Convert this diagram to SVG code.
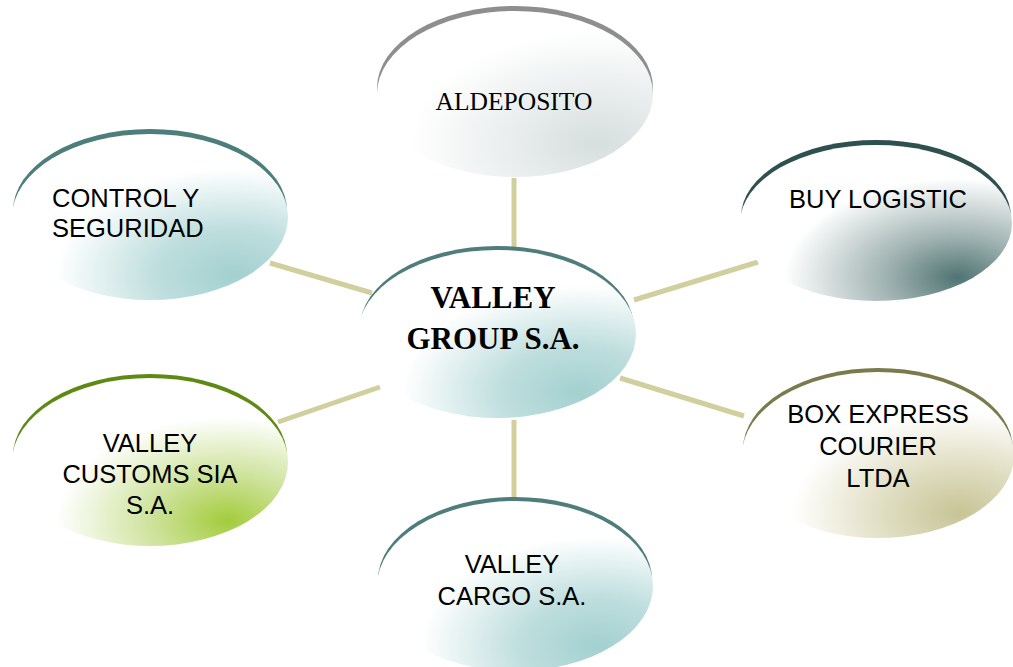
<svg xmlns="http://www.w3.org/2000/svg" width="1013" height="667" viewBox="0 0 1013 667">
  <style>
    .link { stroke: #d2cf9f; stroke-width: 5; fill: none; }
    .sans { font-family: "Liberation Sans", Arial, sans-serif; font-size: 25.5px; fill: #000; text-anchor: middle; }
    .left { text-anchor: start; }
    .serif { font-family: "Liberation Serif", "Times New Roman", serif; font-size: 25.5px; fill: #000; text-anchor: middle; }
    .title { font-family: "Liberation Serif", "Times New Roman", serif; font-size: 31px; font-weight: bold; fill: #000; text-anchor: middle; }
  </style>
  <defs>
    <radialGradient id="gTeal" cx="0.8" cy="0.85" r="0.8">
      <stop offset="0" stop-color="#a3d0d0"/>
      <stop offset="0.35" stop-color="#bfdede"/>
      <stop offset="0.8" stop-color="#ffffff"/>
    </radialGradient>
    <radialGradient id="gGrey" cx="0.8" cy="0.8" r="0.8">
      <stop offset="0" stop-color="#d6dede"/>
      <stop offset="0.85" stop-color="#ffffff"/>
    </radialGradient>
    <radialGradient id="gSlate" cx="0.8" cy="0.85" r="0.75">
      <stop offset="0" stop-color="#4f7472"/>
      <stop offset="0.35" stop-color="#9fb2b1"/>
      <stop offset="0.85" stop-color="#ffffff"/>
    </radialGradient>
    <radialGradient id="gGreen" cx="0.78" cy="0.85" r="0.77">
      <stop offset="0" stop-color="#a3cc3c"/>
      <stop offset="0.35" stop-color="#cde29a"/>
      <stop offset="0.8" stop-color="#ffffff"/>
    </radialGradient>
    <radialGradient id="gKhaki" cx="0.8" cy="0.85" r="0.77">
      <stop offset="0" stop-color="#c7c496"/>
      <stop offset="0.4" stop-color="#e2e0c6"/>
      <stop offset="0.8" stop-color="#ffffff"/>
    </radialGradient>
  </defs>

  <!-- connectors from the hub to each company -->
  <g id="connectors">
    <line class="link" x1="514" y1="178" x2="514" y2="252"/>
    <line class="link" x1="372" y1="293" x2="270" y2="263"/>
    <line class="link" x1="634" y1="300" x2="758" y2="262"/>
    <line class="link" x1="380" y1="387" x2="278" y2="422"/>
    <line class="link" x1="620" y1="378" x2="744" y2="416"/>
    <line class="link" x1="514" y1="420" x2="514" y2="500"/>
  </g>

  <g id="aldeposito">
    <ellipse cx="515" cy="88" rx="138" ry="82" fill="#8e8e8e"/>
    <ellipse cx="515" cy="94" rx="138" ry="83" fill="url(#gGrey)"/>
    <text class="serif" x="514" y="110">ALDEPOSITO</text>
  </g>

  <g id="control-seguridad">
    <ellipse cx="150" cy="211" rx="137" ry="82" fill="#4d7e7c"/>
    <ellipse cx="150" cy="217" rx="138" ry="83" fill="url(#gTeal)"/>
    <text class="sans left" x="52" y="207">CONTROL Y</text>
    <text class="sans left" x="52" y="237">SEGURIDAD</text>
  </g>

  <g id="buy-logistic">
    <ellipse cx="876" cy="217" rx="135" ry="77" fill="#2e504e"/>
    <ellipse cx="876" cy="223" rx="136" ry="78" fill="url(#gSlate)"/>
    <text class="sans" x="878" y="208">BUY LOGISTIC</text>
  </g>

  <g id="valley-group">
    <ellipse cx="497" cy="328" rx="137" ry="82" fill="#4f7d7b"/>
    <ellipse cx="497" cy="334" rx="139" ry="84" fill="url(#gTeal)"/>
    <text class="title" x="493" y="308">VALLEY</text>
    <text class="title" x="493" y="349">GROUP S.A.</text>
  </g>

  <g id="valley-customs">
    <ellipse cx="150" cy="456" rx="137" ry="82" fill="#5e8a14"/>
    <ellipse cx="150" cy="462" rx="138" ry="84" fill="url(#gGreen)"/>
    <text class="sans" x="150" y="452">VALLEY</text>
    <text class="sans" x="150" y="483">CUSTOMS SIA</text>
    <text class="sans" x="150" y="514">S.A.</text>
  </g>

  <g id="box-express">
    <ellipse cx="878" cy="449" rx="135" ry="81" fill="#7b7a4c"/>
    <ellipse cx="878" cy="455" rx="136" ry="83" fill="url(#gKhaki)"/>
    <text class="sans" x="878" y="423">BOX EXPRESS</text>
    <text class="sans" x="878" y="455">COURIER</text>
    <text class="sans" x="878" y="487">LTDA</text>
  </g>

  <g id="valley-cargo">
    <ellipse cx="515" cy="580" rx="137" ry="83" fill="#4f7d7b"/>
    <ellipse cx="515" cy="586" rx="138" ry="85" fill="url(#gTeal)"/>
    <text class="sans" x="512" y="573">VALLEY</text>
    <text class="sans" x="512" y="605">CARGO S.A.</text>
  </g>
</svg>
